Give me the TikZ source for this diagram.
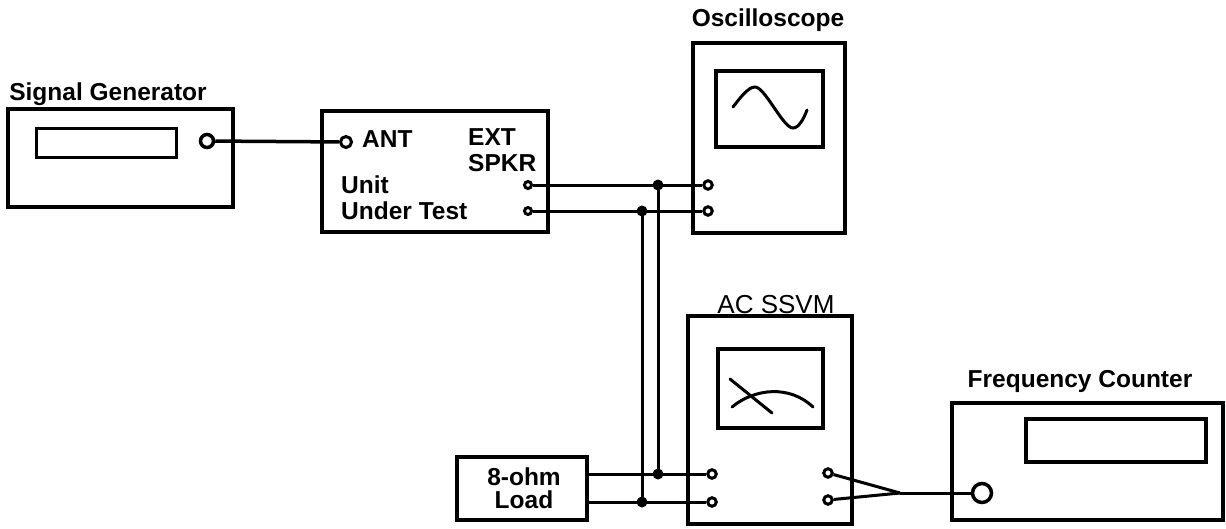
\documentclass[tikz,border=0pt]{standalone}
\usepackage{fontspec}
\setmainfont{Liberation Sans}
\usetikzlibrary{positioning}
\tikzset{
  box/.style={draw, line width=4.5pt, inner sep=0pt},
  screen/.style={draw, line width=3.5pt, inner sep=0pt},
  lbl/.style={font=\fontsize{24.5}{26}\selectfont\bfseries, inner sep=0pt, align=left},
  term/.style={circle, draw, line width=3pt, fill=white, inner sep=0pt},
  wire/.style={line width=3pt},
  dot/.style={circle, fill, inner sep=0pt, minimum size=11pt},
  trace/.style={line width=3pt, line cap=round}
}
\begin{document}
\begin{tikzpicture}[x=1pt,y=-1pt]
\useasboundingbox (0,0) rectangle (1226,528);
% instruments
\node[box, minimum width=225pt, minimum height=98pt] (sg) at (120.5,158) {};
\node[box, minimum width=226pt, minimum height=121pt] (uut) at (435,171.5) {};
\node[box, minimum width=152pt, minimum height=190pt] (scope) at (769,138) {};
\node[box, minimum width=164pt, minimum height=208pt] (vm) at (770,420) {};
\node[box, minimum width=130pt, minimum height=63pt] (load) at (522,488.5) {};
\node[box, minimum width=271pt, minimum height=117pt] (fc) at (1087.5,461.5) {};
% screens
\node[screen, minimum width=140pt, minimum height=29pt] (sgdisp) at (106.5,143) {};
\node[screen, minimum width=107pt, minimum height=76pt] (scr) at (769.5,109) {};
\node[screen, minimum width=105pt, minimum height=79pt] (meter) at (770.5,388.5) {};
\node[screen, minimum width=180pt, minimum height=43pt] (fcdisp) at (1116,440.5) {};
% labels
\node[lbl, anchor=base] (sglbl) at (108,100) {Signal Generator};
\node[lbl, anchor=base] (scopelbl) at (768,26) {Oscilloscope};
\node[lbl, anchor=base, font=\fontsize{26}{26}\selectfont] (vmlbl) at (776,313) {AC SSVM};
\node[lbl, anchor=base] (fclbl) at (1080,387) {Frequency Counter};
\node[lbl, anchor=base west] (antlbl) at (362,147) {ANT};
\node[lbl, anchor=north west] (spkrlbl) at (468,128) {EXT\\SPKR};
\node[lbl, anchor=north west] (uutlbl) at (341,176) {Unit\\Under Test};
\node[lbl, align=center, font=\fontsize{24.5}{23}\selectfont\bfseries] (loadlbl) at (524,488) {8-ohm\\Load};
% terminals
\node[term, minimum size=13pt, line width=3.5pt] (sgout) at (207,141) {};
\node[term, minimum size=11pt] (ant) at (346,142) {};
\node[term, minimum size=7pt] (uo1) at (528,185) {};
\node[term, minimum size=7pt] (uo2) at (528,211) {};
\node[term, minimum size=8.5pt] (si1) at (708,185) {};
\node[term, minimum size=8.5pt] (si2) at (708,211) {};
\node[term, minimum size=8.5pt] (vi1) at (712,474) {};
\node[term, minimum size=8.5pt] (vi2) at (712,502) {};
\node[term, minimum size=8.5pt] (vo1) at (828,473) {};
\node[term, minimum size=8.5pt] (vo2) at (828,500) {};
\node[term, minimum size=19pt, line width=3.5pt] (fcin) at (982,493) {};
\coordinate (j1) at (658,185);
\coordinate (j2) at (642,211);
\coordinate (j3) at (658,474);
\coordinate (j4) at (642,502);
\coordinate (merge) at (900,493);
% wiring
\draw[wire, line width=3.5pt] (sgout) -- (ant);
\draw[wire] (uo1) -- (si1);
\draw[wire] (uo2) -- (si2);
\draw[wire] (j1) -- (j3);
\draw[wire] (j2) -- (j4);
\draw[wire] (load.east |- j3) -- (vi1);
\draw[wire] (load.east |- j4) -- (vi2);
\draw[wire] (vo1) -- (merge);
\draw[wire] (vo2) -- (merge);
\draw[wire] (merge) -- (fcin);
\node[dot] at (j1) {};
\node[dot] at (j2) {};
\node[dot] at (j3) {};
\node[dot] at (j4) {};
% sine and needle
\draw[trace] (733,107) .. controls (740,98) and (748,87) .. (755,87)
  .. controls (765,87) and (783,128) .. (793,128)
  .. controls (799,128) and (804,118) .. (807,110);
\draw[trace] (730,379) -- (772,413);
\draw[trace] (732,407) .. controls (755,388) and (790,385) .. (813,407);
\end{tikzpicture}
\end{document}
